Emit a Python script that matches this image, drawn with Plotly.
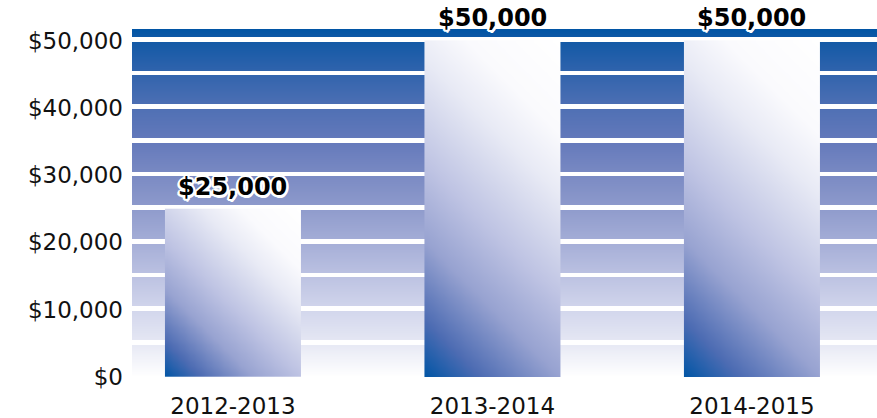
import numpy as np
import plotly.graph_objects as go

# ---------------- data ----------------
categories = ["2012-2013", "2013-2014", "2014-2015"]
amounts = [25000, 50000, 50000]
y_tick_values = [0, 10000, 20000, 30000, 40000, 50000]
y_tick_labels = ["$0", "$10,000", "$20,000", "$30,000", "$40,000", "$50,000"]
grid_step = 5000

# ---------------- layout constants ----------------
W, H = 877, 418
M_L, M_R, M_T, M_B = 132, 0, 29, 41
X_RANGE = [-0.389, 2.482]
Y_RANGE = [0, 51700]
BAR_W = 0.524
PLOT_W = W - M_L - M_R
PLOT_H = H - M_T - M_B
PX_PER_X = PLOT_W / (X_RANGE[1] - X_RANGE[0])
PX_PER_Y = PLOT_H / (Y_RANGE[1] - Y_RANGE[0])

FONT = "DejaVu Sans"

bg_scale = [
    [0.0, "#ffffff"], [0.0967, "#e6e8f4"], [0.1934, "#d2d6ec"], [0.290, "#bcc2e2"],
    [0.387, "#a5aed7"], [0.4836, "#8f9bcc"], [0.580, "#7a8ac3"], [0.677, "#6479bb"],
    [0.774, "#4f70b4"], [0.870, "#3264ad"], [0.967, "#1259a6"], [1.0, "#0055a5"],
]
bar_scale = [
    [0.0, "#0055a5"], [0.12, "#4d6cb3"], [0.29, "#98a3d1"], [0.45, "#bec3e3"],
    [0.55, "#d1d5eb"], [0.67, "#e8eaf5"], [0.8, "#fafafd"], [1.0, "#ffffff"],
]

fig = go.Figure()

# ---- background: vertical gradient with white gaps at every grid step ----
step = 100
y_edges = np.arange(Y_RANGE[0], Y_RANGE[1] + step, step)
y_edges[-1] = min(y_edges[-1], Y_RANGE[1])
centers = (y_edges[:-1] + y_edges[1:]) / 2
z_bg = []
for c in centers:
    k = round((c - 150) / grid_step)
    if k >= 1 and abs(c - 150 - k * grid_step) < 370:
        z_bg.append([None])
    else:
        z_bg.append([c])
fig.add_trace(go.Heatmap(
    x=[X_RANGE[0], X_RANGE[1]], y=y_edges, z=z_bg,
    zmin=Y_RANGE[0], zmax=Y_RANGE[1], colorscale=bg_scale,
    showscale=False, hoverinfo="skip", zsmooth=False,
))

# ---- bar shading (diagonal gradient, blue at bottom-left) ----
for i, v in enumerate(amounts):
    nx, ny = 40, max(20, int(v / 500))
    xe = np.linspace(i - BAR_W / 2, i + BAR_W / 2, nx + 1)
    ye = np.linspace(0, v, ny + 1)
    xc = (xe[:-1] + xe[1:]) / 2
    yc = (ye[:-1] + ye[1:]) / 2
    wpx = BAR_W * PX_PER_X
    hpx = v * PX_PER_Y
    xx, yy = np.meshgrid((xc - xe[0]) * PX_PER_X, yc * PX_PER_Y)
    u = (xx + yy) / (wpx + hpx)
    fig.add_trace(go.Heatmap(
        x=xc, y=yc, z=u, zmin=0, zmax=1, colorscale=bar_scale,
        showscale=False, hoverinfo="skip", zsmooth="best",
    ))

# ---- the bars themselves ----
fig.add_trace(go.Bar(
    x=list(range(len(categories))), y=amounts, width=BAR_W,
    marker=dict(color="rgba(255,255,255,0)", line=dict(width=0)),
    customdata=categories,
    hovertemplate="%{customdata}: $%{y:,}<extra></extra>",
))

# ---- value labels ----
outline = ", ".join(
    f"{dx}px {dy}px 0 #ffffff" for dx, dy in
    [(2, 0), (-2, 0), (0, 2), (0, -2), (1.5, 1.5), (-1.5, -1.5), (1.5, -1.5), (-1.5, 1.5),
     (2.5, 1), (-2.5, 1), (1, 2.5), (1, -2.5)]
)
for i, v in enumerate(amounts):
    fig.add_annotation(
        x=i, y=v, text=f"${v:,}", showarrow=False, yanchor="middle", yshift=22,
        font=dict(family=FONT, size=24, color="#000000", weight="bold", shadow=outline),
    )

fig.update_layout(
    width=W, height=H,
    margin=dict(l=M_L, r=M_R, t=M_T, b=M_B, pad=0),
    paper_bgcolor="#ffffff", plot_bgcolor="#ffffff",
    showlegend=False,
    xaxis=dict(
        range=X_RANGE, tickvals=list(range(len(categories))), ticktext=categories,
        showgrid=False, zeroline=False, showline=False, ticks="",
        tickfont=dict(family=FONT, size=23, color="#111111"), ticklabelstandoff=13,
        fixedrange=True, automargin=False,
    ),
    yaxis=dict(
        range=Y_RANGE, tickvals=y_tick_values, ticktext=y_tick_labels,
        showgrid=False, zeroline=False, showline=False, ticks="",
        tickfont=dict(family=FONT, size=23, color="#111111"), ticklabelstandoff=8,
        fixedrange=True, automargin=False,
    ),
)

fig.write_html(
    "out.html",
    config={"displayModeBar": False},
    post_script="document.body.style.margin='0';document.body.style.overflow='hidden';",
)
